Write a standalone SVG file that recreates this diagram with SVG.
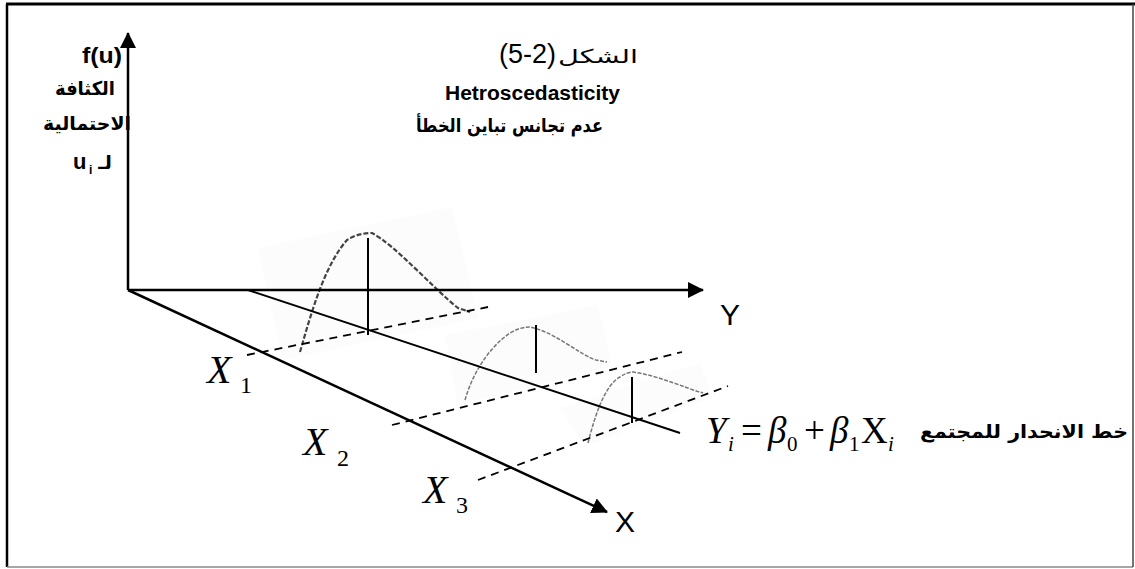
<svg xmlns="http://www.w3.org/2000/svg" width="1135" height="569" viewBox="0 0 1135 569">
<style>
.ax{stroke:#000;stroke-width:2.5;fill:none}
.reg{stroke:#000;stroke-width:2;fill:none}
.dash{stroke:#000;stroke-width:1.8;stroke-dasharray:8,6;fill:none}
.vl{stroke:#000;stroke-width:2;fill:none}
.bg{fill:#fcfcfc;stroke:none}
.c1{stroke:#444;stroke-width:2.2;stroke-dasharray:5,2;fill:none}
.c2{stroke:#777;stroke-width:1.5;stroke-dasharray:4,1.5;fill:none}
.ar{font-family:"DejaVu Sans","Liberation Sans",sans-serif;font-weight:bold;font-size:19px;fill:#000}
.sans{font-family:"Liberation Sans",Arial,sans-serif;fill:#000}
.tm{font-family:"Liberation Serif","Times New Roman",serif;fill:#000}
</style>
<defs>
<marker id="arrow" viewBox="0 0 16 16" markerWidth="16" markerHeight="16" refX="15" refY="8" markerUnits="userSpaceOnUse" orient="auto">
<path d="M0,0 L16,8 L0,16 z" fill="#000"/>
</marker>
</defs>
<rect x="0" y="0" width="1135" height="569" fill="#fff"/>
<g id="frame">
<line x1="6" y1="4" x2="1135" y2="4" stroke="#000" stroke-width="3"/>
<line x1="7" y1="4" x2="7" y2="567" stroke="#000" stroke-width="2.5"/>
<line x1="7" y1="567" x2="1133" y2="567" stroke="#888" stroke-width="1.5"/>
<line x1="1133" y1="4" x2="1133" y2="567" stroke="#444" stroke-width="1.5"/>
</g>
<g id="curve1">
<polygon class="bg" points="258,248 452,207 478,318 283,360"/>
<path class="c1" d="M300,352 C312,310 325,265 347,240 Q358,233 372,233 C395,245 435,290 458,308 L470,312"/>
<line class="vl" x1="368" y1="238" x2="368" y2="335"/>
</g>
<g id="curve2">
<polygon class="bg" points="445,335 598,305 612,366 458,405"/>
<path class="c2" d="M465,400 C472,375 488,348 510,333 Q520,327 530,327 C555,332 580,355 596,360 L607,362"/>
<line class="vl" x1="536" y1="325" x2="536" y2="373"/>
</g>
<g id="curve3">
<polygon class="bg" points="560,408 700,363 712,397 585,447"/>
<path class="c2" d="M588,443 C595,415 605,385 620,377 Q627,372 633,372 C660,376 685,388 703,393"/>
<line class="vl" x1="632" y1="377" x2="632" y2="423"/>
</g>
<g id="connectors">
<line class="ax" x1="128" y1="290" x2="128" y2="33" marker-end="url(#arrow)"/>
<line class="ax" x1="128" y1="290" x2="703" y2="290" marker-end="url(#arrow)"/>
<line class="ax" x1="128" y1="290" x2="607" y2="512" marker-end="url(#arrow)"/>
<line class="reg" x1="248" y1="290" x2="680" y2="433"/>
<line class="dash" x1="247" y1="355" x2="488" y2="307"/>
<line class="dash" x1="392" y1="425" x2="682" y2="352"/>
<line class="dash" x1="478" y1="480" x2="728" y2="386"/>
</g>
<g id="yaxis-label">
<text class="sans" x="82" y="63" font-size="22" font-weight="bold" textLength="40" lengthAdjust="spacingAndGlyphs">f(u)</text>
<text class="ar" x="85" y="95" text-anchor="middle" textLength="60" lengthAdjust="spacingAndGlyphs">الكثافة</text>
<text class="ar" x="87" y="130" text-anchor="middle" textLength="88" lengthAdjust="spacingAndGlyphs">الاحتمالية</text>
<text class="sans" x="73" y="169" font-size="22" font-weight="bold">u</text>
<text class="sans" x="89" y="174" font-size="12" font-weight="bold">i</text>
<text class="ar" x="112" y="169" text-anchor="end">لـ</text>
</g>
<g id="title">
<text class="sans" x="499" y="63" font-size="27">(5-2)</text>
<text class="ar" x="638" y="63" text-anchor="end" font-size="26" style="font-weight:normal" textLength="80" lengthAdjust="spacingAndGlyphs">الشكل</text>
<text class="sans" x="445" y="100" font-size="20" font-weight="bold" textLength="175" lengthAdjust="spacingAndGlyphs">Hetroscedasticity</text>
<text class="ar" x="603" y="132" text-anchor="end" textLength="187" lengthAdjust="spacingAndGlyphs">عدم تجانس تباين الخطأ</text>
</g>
<g id="axis-labels">
<text class="sans" x="720" y="325" font-size="30">Y</text>
<text class="sans" x="615" y="532" font-size="30">X</text>
</g>
<g id="x-ticks">
<text class="tm" x="207" y="383" font-size="40" font-style="italic">X</text>
<text class="tm" x="240" y="393" font-size="24">1</text>
<text class="tm" x="303" y="455" font-size="40" font-style="italic">X</text>
<text class="tm" x="337" y="466" font-size="24">2</text>
<text class="tm" x="423" y="503" font-size="40" font-style="italic">X</text>
<text class="tm" x="456" y="513" font-size="24">3</text>
</g>
<g id="equation">
<text class="tm" y="443" font-size="37"><tspan x="706" font-style="italic">Y</tspan><tspan x="728" y="451" font-size="21" font-style="italic">i</tspan><tspan x="741" y="443">=</tspan><tspan x="768" font-style="italic">β</tspan><tspan x="787" y="451" font-size="21">0</tspan><tspan x="804" y="443">+</tspan><tspan x="830" font-style="italic">β</tspan><tspan x="849" y="451" font-size="21">1</tspan><tspan x="861" y="443">X</tspan><tspan x="888" y="451" font-size="21" font-style="italic">i</tspan></text>
<text class="ar" x="1128" y="438" text-anchor="end" textLength="208" lengthAdjust="spacingAndGlyphs">خط الانحدار للمجتمع</text>
</g>
</svg>
